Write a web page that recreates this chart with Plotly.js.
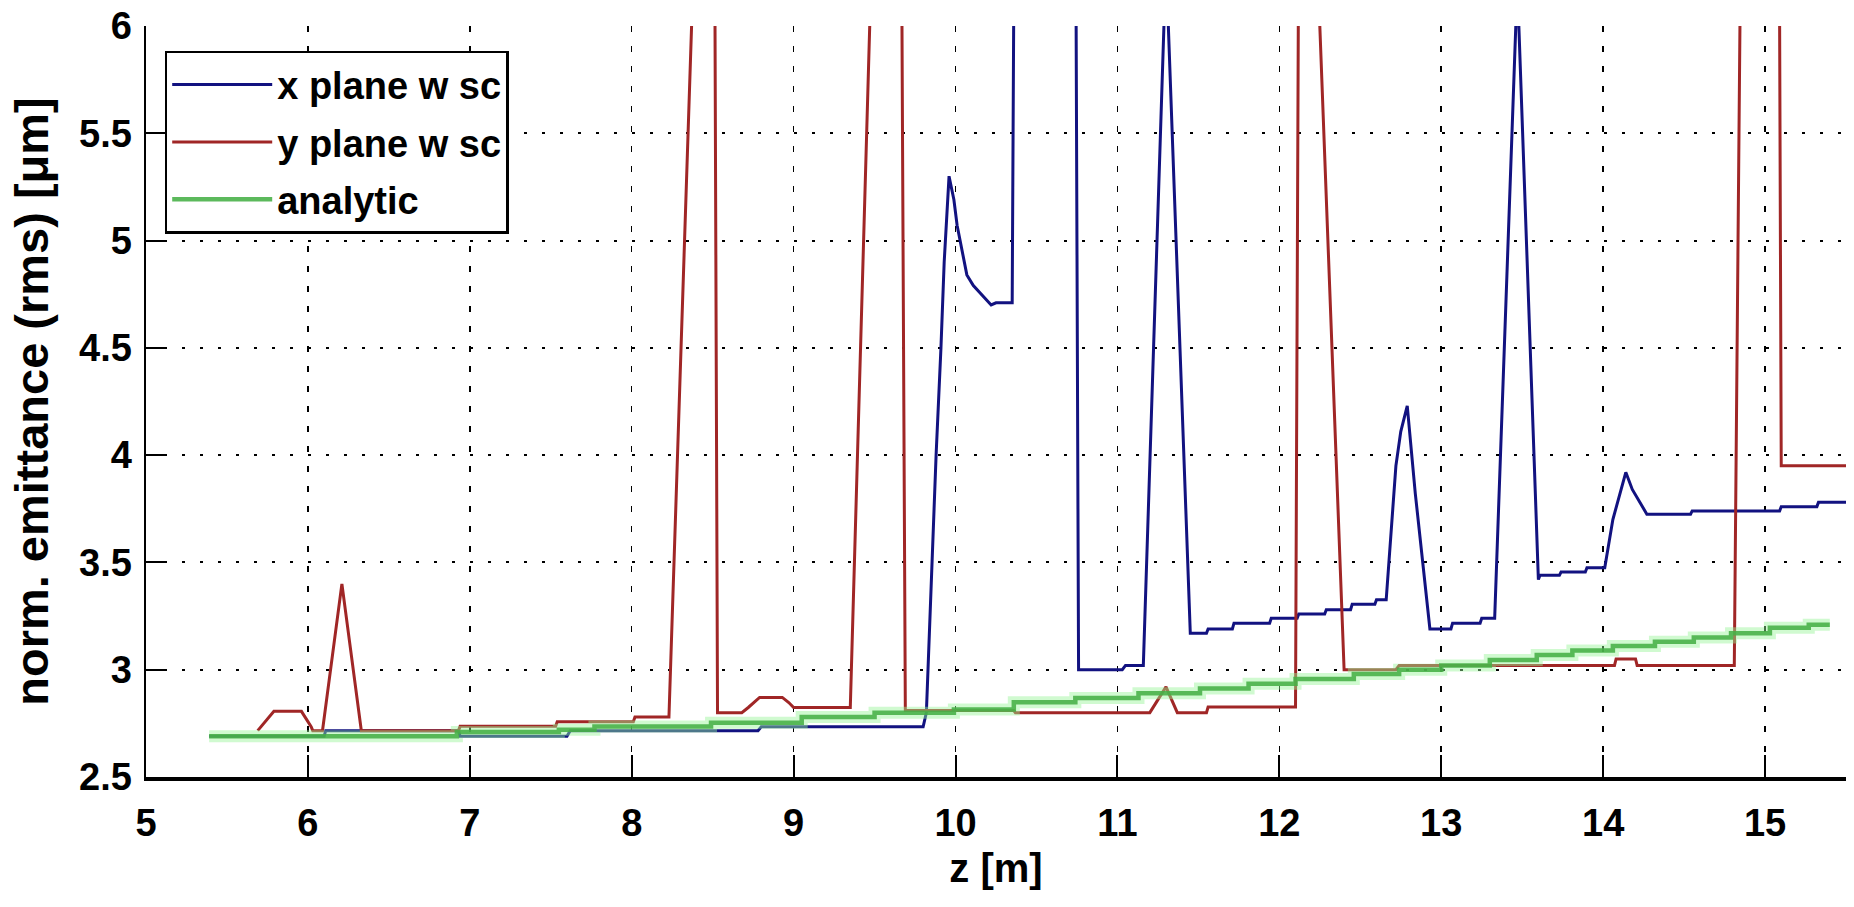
<!DOCTYPE html>
<html>
<head>
<meta charset="utf-8">
<script src="https://cdn.plot.ly/plotly-3.0.1.min.js"></script>
<style>
  html, body { margin: 0; padding: 0; background: #fff; }
  #chart { width: 1854px; height: 907px; }
</style>
</head>
<body>
<div id="chart"></div>
<script>
// ---- data ----
const seriesNames = ["x plane w sc", "y plane w sc", "analytic"];

// x plane (blue)
const blueZ = [5.39, 6.10, 6.11, 6.93, 6.94, 7.60, 7.62, 8.78, 8.80, 9.80, 9.82, 9.88, 9.91, 9.93, 9.96,
  9.99, 10.01, 10.04, 10.07, 10.11, 10.17, 10.22, 10.25, 10.35, 10.38, 10.73, 10.76, 11.03, 11.05, 11.16,
  11.30, 11.45, 11.55, 11.56, 11.71, 11.72, 11.94, 11.95, 12.11, 12.12, 12.28, 12.29, 12.44, 12.45, 12.59,
  12.60, 12.66, 12.72, 12.75, 12.79, 12.84, 12.90, 12.93, 13.06, 13.07, 13.24, 13.25, 13.33, 13.47, 13.60,
  13.61, 13.73, 13.74, 13.89, 13.90, 14.01, 14.06, 14.14, 14.18, 14.27, 14.54, 14.55, 15.09, 15.10, 15.32,
  15.33, 15.50];
const blueEps = [2.69, 2.69, 2.716, 2.716, 2.69, 2.69, 2.716, 2.716, 2.734, 2.734, 2.80, 4.0, 4.5, 4.90, 5.30,
  5.19, 5.07, 4.95, 4.84, 4.79, 4.74, 4.70, 4.71, 4.71, 9.0, 9.0, 3.0, 3.0, 3.02, 3.02,
  6.3, 3.17, 3.17, 3.19, 3.19, 3.217, 3.217, 3.24, 3.24, 3.26, 3.26, 3.28, 3.28, 3.305, 3.305,
  3.326, 3.326, 3.95, 4.11, 4.23, 3.82, 3.40, 3.19, 3.19, 3.217, 3.217, 3.24, 3.24, 6.2, 3.42,
  3.44, 3.44, 3.455, 3.455, 3.475, 3.475, 3.70, 3.92, 3.84, 3.725, 3.725, 3.74, 3.74, 3.76, 3.76,
  3.78, 3.78];

// y plane (red)
const redZ = [5.69, 5.79, 5.96, 6.02, 6.03, 6.09, 6.21, 6.33, 6.93, 6.94, 7.53, 7.54, 8.01, 8.02, 8.23,
  8.50, 8.53, 8.68, 8.72, 8.79, 8.93, 8.97, 9.00, 9.35, 9.64, 9.69, 10.36, 10.37, 11.20, 11.30,
  11.37, 11.55, 11.56, 12.10, 12.13, 12.40, 12.72, 12.74, 14.07, 14.08, 14.20, 14.21, 14.81, 14.90, 15.06,
  15.10, 15.50];
const redEps = [2.716, 2.806, 2.806, 2.735, 2.716, 2.716, 3.40, 2.716, 2.716, 2.736, 2.736, 2.758, 2.758, 2.78, 2.78,
  9.0, 2.80, 2.80, 2.824, 2.871, 2.871, 2.847, 2.824, 2.824, 10.5, 2.81, 2.81, 2.80, 2.80, 2.92,
  2.80, 2.80, 2.826, 2.826, 8.4, 3.0, 3.0, 3.02, 3.02, 3.05, 3.05, 3.02, 3.02, 10.7, 12.2,
  3.95, 3.95];

// analytic (green), step values
const greenZ = [5.39, 6.92, 7.55, 7.77, 8.49, 9.05, 9.50, 9.99, 10.36, 10.74, 11.13, 11.51, 11.81, 12.10,
  12.46, 12.74, 13.00, 13.30, 13.59, 13.81, 14.06, 14.32, 14.56, 14.79, 15.03, 15.27, 15.40];
const greenEps = [2.69, 2.71, 2.72, 2.735, 2.753, 2.78, 2.80, 2.815, 2.848, 2.868, 2.89, 2.913, 2.935, 2.957,
  2.98, 3.0, 3.02, 3.045, 3.068, 3.09, 3.11, 3.13, 3.15, 3.17, 3.195, 3.21, 3.21];

const xTicks = [5, 6, 7, 8, 9, 10, 11, 12, 13, 14, 15];
const yTicks = [2.5, 3, 3.5, 4, 4.5, 5, 5.5, 6];

// ---- chart ----
const FONT = "Liberation Sans, Arial, Helvetica, sans-serif";

const traces = [
  { x: blueZ, y: blueEps, type: "scatter", mode: "lines", name: seriesNames[0],
    legendgroup: "a", line: { color: "rgb(18,18,128)", width: 3 } },
  { x: redZ, y: redEps, type: "scatter", mode: "lines", name: seriesNames[1],
    legendgroup: "b", line: { color: "rgb(160,38,38)", width: 3 } },
  { x: greenZ, y: greenEps, type: "scatter", mode: "lines", name: seriesNames[2], showlegend: false,
    legendgroup: "c", hoverinfo: "skip",
    line: { color: "rgba(150,245,150,0.45)", width: 12, shape: "hv" } },
  { x: greenZ, y: greenEps, type: "scatter", mode: "lines", name: seriesNames[2],
    legendgroup: "c", line: { color: "rgba(70,175,70,0.88)", width: 4.5, shape: "hv" } }
];

const layout = {
  width: 1854, height: 907,
  paper_bgcolor: "#fff", plot_bgcolor: "#fff",
  margin: { l: 146, r: 8, t: 26, b: 130 },
  font: { family: FONT, color: "#000", size: 38, weight: 700 },
  showlegend: true,
  legend: {
    x: 0.011, y: 0.967, xanchor: "left", yanchor: "top",
    bgcolor: "#fff", bordercolor: "#000", borderwidth: 2.5,
    font: { family: FONT, size: 38, color: "#000", weight: 700 },
    tracegroupgap: 5, itemwidth: 100
  },
  xaxis: {
    range: [5, 15.5], tickvals: xTicks, ticktext: xTicks.map(String),
    showgrid: true, gridcolor: "#000", gridwidth: 1.5, griddash: "6px,14px",
    showline: true, linecolor: "#000", linewidth: 3.5, zeroline: false,
    ticks: "inside", ticklen: 22, tickwidth: 2, tickcolor: "#000",
    tickfont: { family: FONT, size: 38, weight: 700 },
    ticklabelstandoff: 10,
    title: { text: "z [m]", font: { family: FONT, size: 40, weight: 700 }, standoff: 12 }
  },
  yaxis: {
    range: [2.5, 6], tickvals: yTicks, ticktext: yTicks.map(String),
    showgrid: true, gridcolor: "#000", gridwidth: 2, griddash: "3px,15px",
    showline: true, linecolor: "#000", linewidth: 2.5, zeroline: false,
    ticks: "inside", ticklen: 18, tickwidth: 2, tickcolor: "#000",
    tickfont: { family: FONT, size: 38, weight: 700 },
    ticklabelstandoff: 4,
    title: { text: "norm. emittance (rms) [μm]", font: { family: FONT, size: 47, weight: 700 }, standoff: 16 }
  }
};

Plotly.newPlot("chart", traces, layout, { displayModeBar: false, staticPlot: true });
</script>
</body>
</html>
